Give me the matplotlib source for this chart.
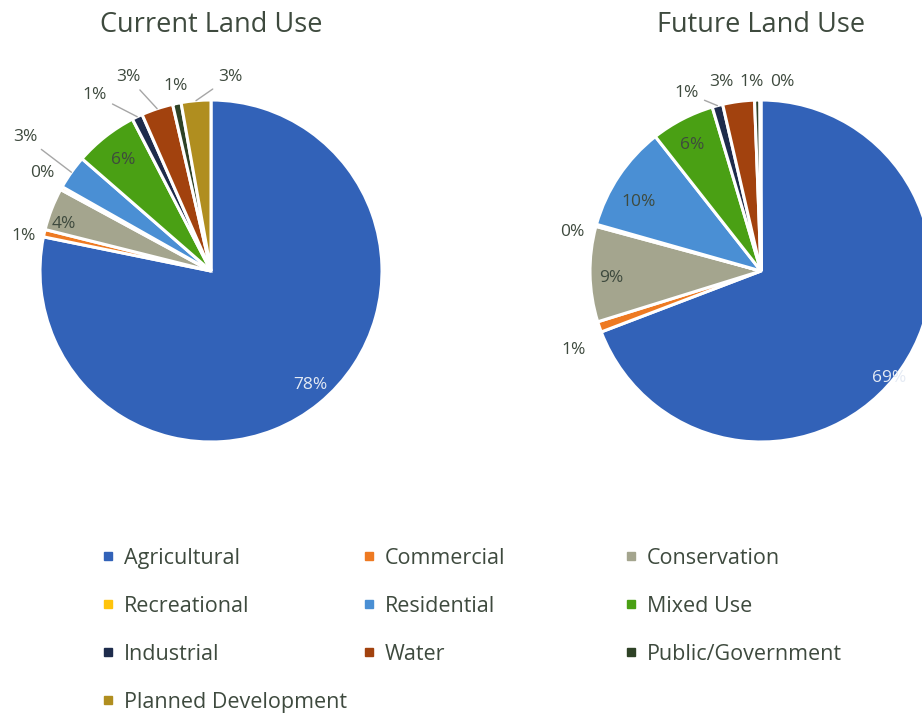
import matplotlib
matplotlib.use('Agg')
import matplotlib.pyplot as plt
import numpy as np
from matplotlib.lines import Line2D

plt.rcParams['font.family'] = ['Open Sans', 'DejaVu Sans']

categories = ['Agricultural', 'Commercial', 'Conservation', 'Recreational', 'Residential',
              'Mixed Use', 'Industrial', 'Water', 'Public/Government', 'Planned Development']
current = [78.2, 0.7, 4.0, 0.3, 3.2, 6.0, 1.0, 3.0, 0.8, 2.8]
future = [69.2, 1.0, 9.0, 0.2, 10.0, 6.0, 1.0, 3.0, 0.5, 0.1]
titles = ['Current Land Use', 'Future Land Use']

colors = ['#3262B8', '#EE7A22', '#A4A58E', '#FFC40C', '#4A8FD4',
          '#4AA014', '#1E2C4C', '#A2420E', '#2E4226', '#B08E1F']
txt = '#3E4A3E'

# label positions (pie radius = 1) and whether a leader line is drawn
cur_pos = [(0.579, -0.667), (-1.094, 0.205), (-0.860, 0.275), (-0.988, 0.573), (-1.088, 0.784),
           (-0.515, 0.649), (-0.678, 1.029), (-0.485, 1.134), (-0.205, 1.082), (0.111, 1.134)]
cur_lead = [0, 0, 0, 0, 1, 0, 1, 1, 0, 1]
fut_pos = [(0.749, -0.626), (-1.094, -0.462), (-0.877, -0.041), (-1.105, 0.228), (-0.713, 0.404),
           (-0.404, 0.737), (-0.433, 1.041), (-0.234, 1.105), (-0.053, 1.105), (0.123, 1.105)]
fut_lead = [0, 0, 0, 0, 0, 0, 1, 0, 0, 0]

W, H = 922, 715
fig = plt.figure(figsize=(W / 100, H / 100), dpi=100)
R = 171
box = 400
lim = box / 2 / R


def draw_pie(cx, cy, vals, pos, lead, title):
    ax = fig.add_axes([(cx - box / 2) / W, (H - cy - box / 2) / H, box / W, box / H])
    wedges, _ = ax.pie(vals, colors=colors, startangle=90, counterclock=False,
                       wedgeprops=dict(edgecolor='white', linewidth=2.2))
    ax.set_xlim(-lim, lim)
    ax.set_ylim(-lim, lim)
    ax.axis('off')
    for i, w in enumerate(wedges):
        lab = '%d%%' % int(vals[i] + 0.5)
        c = '#E4EAF4' if i == 0 else txt
        if lead[i]:
            ang = np.deg2rad((w.theta1 + w.theta2) / 2)
            ax.annotate(lab, xy=(np.cos(ang), np.sin(ang)), xytext=pos[i],
                        ha='center', va='center', fontsize=12.5, color=c,
                        arrowprops=dict(arrowstyle='-', color='#A6A6A6', lw=1.0,
                                        shrinkA=2, shrinkB=0))
        else:
            ax.text(pos[i][0], pos[i][1], lab, ha='center', va='center', fontsize=12.5, color=c)
    fig.text(cx / W, 1 - 32 / H, title, ha='center', va='baseline', fontsize=19.5, color=txt)


draw_pie(211, 271, current, cur_pos, cur_lead, titles[0])
draw_pie(761, 271, future, fut_pos, fut_lead, titles[1])

# legend in three columns, filled row by row
leg_fs = 15.5
fs_px = leg_fs * 100 / 72
marker_x = [108, 369, 631]
for k in range(3):
    idx = list(range(k, len(categories), 3))
    handles = [Line2D([], [], marker='s', linestyle='none', markersize=5.5, color=colors[i])
               for i in idx]
    x0 = marker_x[k] - 0.3 * fs_px
    fig.legend(handles, [categories[i] for i in idx], loc='upper left',
               bbox_to_anchor=(x0 / W, 1 - 548 / H), frameon=False,
               fontsize=leg_fs, labelcolor=txt, handlelength=0.6, handletextpad=0.42,
               labelspacing=1.25, borderpad=0, borderaxespad=0)

plt.savefig('out.png', dpi=100)
